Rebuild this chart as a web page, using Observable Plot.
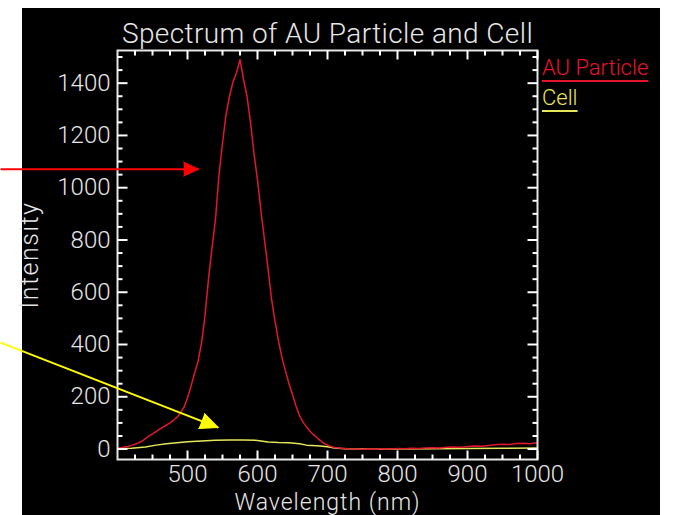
<!DOCTYPE html>
<html>
<head>
<meta charset="utf-8">
<script src="https://cdn.jsdelivr.net/npm/d3@7"></script>
<script src="https://cdn.jsdelivr.net/npm/@observablehq/plot@0.6"></script>
<style>
  html, body { margin: 0; padding: 0; background: #ffffff; }
  #wrap { position: relative; width: 681px; height: 515px; overflow: hidden; }
  #bg { position: absolute; left: 22px; top: 8px; width: 638px; height: 507px; background: #000; }
  #chart { position: absolute; left: 0; top: 0; }
  .leg { position: absolute; left: 542px; font-family: Roboto, "DejaVu Sans", sans-serif; font-size: 22px; line-height: 24px;
         font-weight: 300; text-decoration: underline; text-decoration-thickness: 2px; text-underline-offset: 5px; white-space: nowrap; }
  .ttl text { letter-spacing: 0.4px; }
  .ylab text { letter-spacing: 1.5px; }
  .xlab text { letter-spacing: 1px; }
</style>
</head>
<body>
<div id="wrap">
  <div id="bg"></div>
  <div id="chart"></div>
  <div class="leg" id="leg1" style="top:56px;color:#e8142c;">AU Particle</div>
  <div class="leg" id="leg2" style="top:86px;color:#e6e65a;">Cell</div>
</div>
<script>
// ---- data ----
const title = "Spectrum of AU Particle and Cell";
const xLabel = "Wavelength (nm)";
const yLabel = "Intensity";
const seriesNames = ["AU Particle", "Cell"];
const seriesColors = ["#e0182c", "#e6e65a"];

const wavelengthAU = [400,405,410,415,420,425,430,435,440,445,450,455,460,465,470,475,480,485,490,495,
  500,505,510,515,520,525,530,535,540,545,550,555,560,565,570,575,580,585,590,595,
  600,605,610,615,620,625,630,635,640,645,650,655,660,665,670,675,680,685,690,695,
  700,705,710,720,730,740,750,760,770,780,790,800,810,820,830,840,850,860,870,880,890,
  900,910,920,930,940,950,960,970,980,990,1000];
const intensityAU = [3,5,8,10,14,18,24,30,40,50,58,67,76,84,92,100,110,122,138,160,
  195,240,290,335,405,510,650,770,880,1050,1170,1280,1350,1405,1440,1490,1415,1350,1250,1130,
  1030,910,800,690,575,490,413,350,298,250,209,165,128,103,85,68,55,43,32,22,
  15,10,6,3,1,0,-1,0,-1,1,0,2,1,3,2,4,5,4,7,8,7,
  10,12,11,14,16,18,17,21,22,20,25];

const wavelengthCell = [400,420,440,455,470,485,500,520,540,560,580,600,615,630,645,660,670,685,700,710,725,750,775,800,850,900,950,1000];
const intensityCell  = [2,3,8,15,20,24,28,31,34,35,35,33,27,25,24,20,15,13,9,4,1,0,-1,0,1,2,3,4];

const xMajor = [500,600,700,800,900,1000];
const xMinor = [425,450,475,525,550,575,625,650,675,725,750,775,825,850,875,925,950,975];
const yMajor = [0,200,400,600,800,1000,1200,1400];
const yMinor = [50,100,150,250,300,350,450,500,550,650,700,750,850,900,950,1050,1100,1150,1250,1300,1350,1450,1500];

// annotation arrows (data units: start -> tip)
const arrowX1 = [233, 233];
const arrowY1 = [1071, 407];
const arrowX2 = [516, 544];
const arrowY2 = [1071, 82];
const arrowColors = ["#ff0000", "#ffff00"];
const arrowHead = [15, 18];
const arrowHalf = [7, 8];

// ---- layout ----
const W = 681, H = 515, mL = 117, mR = 144, mT = 50, mB = 56;
const xDomain = [400, 1000], yDomain = [-40, 1525];
const kx = (W - mL - mR) / (xDomain[1] - xDomain[0]);
const ky = (H - mT - mB) / (yDomain[1] - yDomain[0]);

const au = wavelengthAU.map((w, i) => ({w, v: intensityAU[i]}));
const cell = wavelengthCell.map((w, i) => ({w, v: intensityCell[i]}));
const arrows = arrowX1.map((x1, i) => {
  const dx = (arrowX2[i] - x1) * kx, dy = -(arrowY2[i] - arrowY1[i]) * ky;
  return {x1, y1: arrowY1[i], x2: arrowX2[i], y2: arrowY2[i], c: arrowColors[i],
          rot: Math.atan2(dx, -dy) * 180 / Math.PI, len: arrowHead[i], r: arrowHalf[i]};
});

const txt = "#e6e6e6";
const font = "Roboto, 'DejaVu Sans', sans-serif";

// inward tick shapes (drawn from the frame edge)
const tickRight = {draw(ctx, l) { ctx.moveTo(0, 0); ctx.lineTo(l, 0); }};
const tickLeft  = {draw(ctx, l) { ctx.moveTo(0, 0); ctx.lineTo(-l, 0); }};
const tickUp    = {draw(ctx, l) { ctx.moveTo(0, 0); ctx.lineTo(0, -l); }};
const tickDown  = {draw(ctx, l) { ctx.moveTo(0, 0); ctx.lineTo(0, l); }};
const tk = (data, dim, frameAnchor, shape, length) =>
  Plot.vector(data, {[dim]: d => d, frameAnchor, shape, length, anchor: "start", stroke: "#ffffff", strokeWidth: 2, strokeLinecap: "butt"});

const plot = Plot.plot({
  width: W, height: H,
  marginLeft: mL, marginRight: mR, marginTop: mT, marginBottom: mB,
  style: {background: "transparent", fontFamily: font, color: txt},
  x: {domain: xDomain},
  y: {domain: yDomain},
  marks: [
    Plot.line(cell, {x: "w", y: "v", stroke: seriesColors[1], strokeWidth: 1.5}),
    Plot.line(au, {x: "w", y: "v", stroke: seriesColors[0], strokeWidth: 1.5}),
    Plot.frame({stroke: "#e6e6e6", strokeWidth: 2}),
    // ticks on all four sides, pointing inward
    tk(xMajor, "x", "bottom", tickUp, 9),
    tk(xMinor, "x", "bottom", tickUp, 5),
    tk(xMajor, "x", "top", tickDown, 9),
    tk(xMinor, "x", "top", tickDown, 5),
    tk(yMajor, "y", "left", tickRight, 10),
    tk(yMinor, "y", "left", tickRight, 5),
    tk(yMajor, "y", "right", tickLeft, 10),
    tk(yMinor, "y", "right", tickLeft, 5),
    // tick labels
    Plot.axisX(xMajor, {anchor: "bottom", tickSize: 0, tickPadding: 5, fontSize: 24, fontWeight: 300, fill: txt, label: null, tickFormat: d3.format("d")}),
    Plot.axisY(yMajor, {anchor: "left", tickSize: 0, tickPadding: 7, fontSize: 24, fontWeight: 300, fill: txt, label: null, tickFormat: d3.format("d")}),
    Plot.text([title], {className: "ttl", frameAnchor: "top", dy: -8, lineAnchor: "bottom", textAnchor: "middle", fontSize: 28, fontWeight: 300, fill: txt, fontFamily: font}),
    Plot.text([xLabel], {className: "xlab", frameAnchor: "bottom", dy: 34, lineAnchor: "top", textAnchor: "middle", fontSize: 23, fontWeight: 300, fill: txt, fontFamily: font}),
    Plot.text([yLabel], {className: "ylab", frameAnchor: "left", dx: -88, rotate: -90, lineAnchor: "middle", textAnchor: "middle", fontSize: 25, fontWeight: 300, fill: txt, fontFamily: font}),
    Plot.link(arrows, {x1: "x1", y1: "y1", x2: "x2", y2: "y2", stroke: "c", strokeWidth: 2}),
    ...arrows.map(a => Plot.vector([a], {x: "x2", y: "y2", rotate: a.rot, length: a.len, r: a.r, anchor: "end", shape: "spike", stroke: a.c, fill: a.c, strokeWidth: 1}))
  ]
});
document.getElementById("chart").appendChild(plot);
</script>
</body>
</html>
